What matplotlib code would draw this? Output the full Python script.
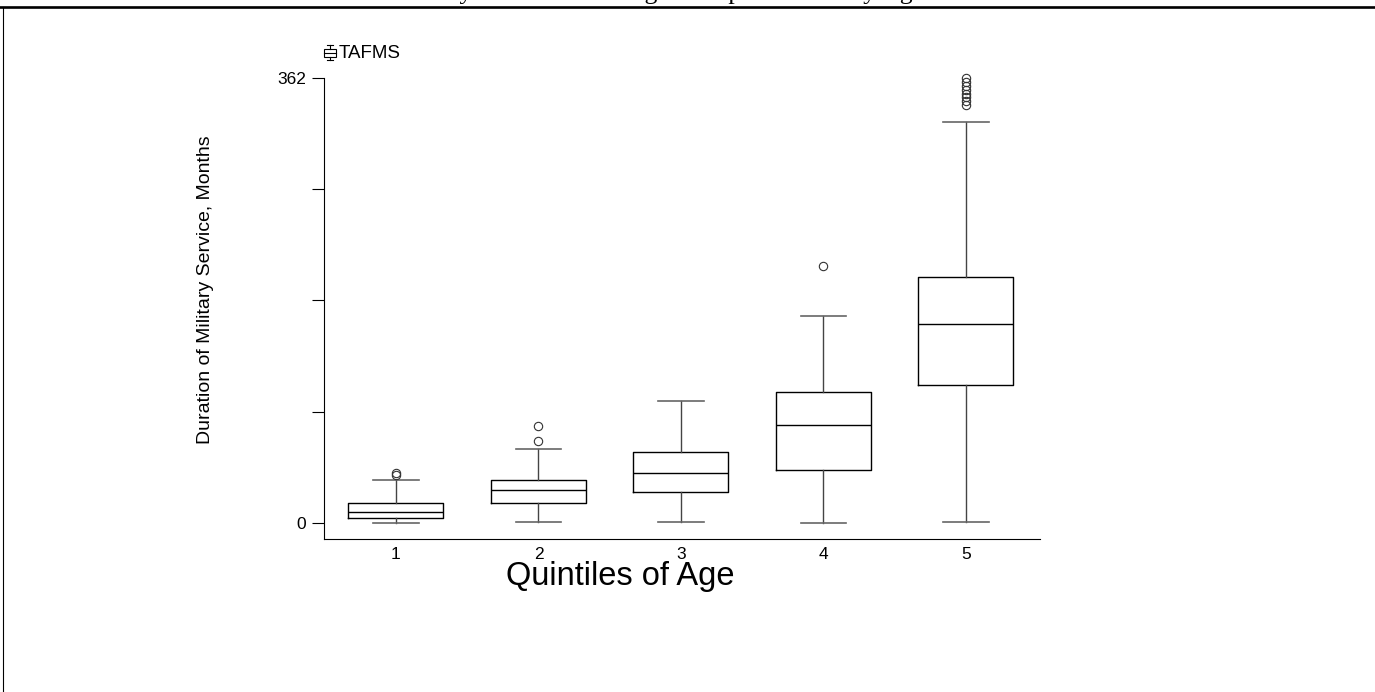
import matplotlib.pyplot as plt
from matplotlib.lines import Line2D
from matplotlib.patches import Rectangle

# quintiles of age, summary of TAFMS (months)
groups = ["1", "2", "3", "4", "5"]
whisker_low = [0, 1, 1, 0, 1]
q1 = [4.6, 17.0, 25.9, 43.8, 112.7]
median = [9.7, 27.0, 40.8, 80.3, 162.2]
q3 = [16.8, 35.1, 58.1, 106.8, 200.3]
whisker_high = [34.9, 60.8, 99.7, 168.6, 325.9]
outliers = [
    [39.2, 41.1],
    [67.0, 79.5],
    [],
    [209.2],
    [340, 343, 346, 349, 352, 355, 358, 362],
]
y_ticks = [0, 90.5, 181, 271.5, 362]
y_tick_labels = ["0", "", "", "", "362"]

plt.rcParams["font.family"] = "Liberation Sans"

W, H = 1375, 692
fig = plt.figure(figsize=(W / 100, H / 100), dpi=100)

# page frame (top rule and left rule) and the cut-off title above
fig.add_artist(Line2D([0, 1], [1 - 6.5 / H, 1 - 6.5 / H], color="black", lw=1.9))
fig.add_artist(Line2D([3 / W, 3 / W], [0, 1 - 6.5 / H], color="black", lw=0.8))
fig.text(262 / W, 1 + 1.5 / H, "Duration of Military Service in the Age Group Stratified by Age",
         family="Liberation Serif", fontsize=18.5, va="baseline", ha="left")

ax = fig.add_axes([324 / W, 1 - 539 / H, 716 / W, (539 - 77.5) / H])

stats = []
for i in range(len(groups)):
    stats.append({
        "whislo": whisker_low[i],
        "q1": q1[i],
        "med": median[i],
        "q3": q3[i],
        "whishi": whisker_high[i],
        "fliers": outliers[i],
        "label": groups[i],
    })

ax.bxp(stats, positions=range(1, 6), widths=0.667, capwidths=0.32,
       boxprops=dict(color="black", lw=1.0),
       medianprops=dict(color="black", lw=1.0),
       whiskerprops=dict(color="#444444", lw=1.0),
       capprops=dict(color="#666666", lw=1.2),
       flierprops=dict(marker="o", markersize=6, markerfacecolor="none",
                       markeredgecolor="#333333", markeredgewidth=0.8))

ax.set_xlim(0.495, 5.52)
ax.set_ylim(-12.6, 362)
ax.set_yticks(y_ticks)
ax.set_yticklabels(y_tick_labels)
ax.tick_params(axis="x", length=0, labelsize=12.5, pad=6)
ax.tick_params(axis="y", length=9, width=0.8, labelsize=12.5, pad=4)
for side in ["top", "right"]:
    ax.spines[side].set_visible(False)
for side in ["left", "bottom"]:
    ax.spines[side].set_linewidth(0.8)
for line in ax.lines:
    line.set_clip_on(False)

fig.text(206 / W, 1 - 290 / H, "Duration of Military Service, Months", fontsize=14,
         rotation=90, ha="center", va="center")
fig.text(620 / W, 1 - 576 / H, "Quintiles of Age", fontsize=23.5, ha="center", va="center")

# legend: small box glyph and series name
lx = 330
fig.add_artist(Rectangle(((lx - 6) / W, 1 - 57 / H), 12 / W, 8 / H, fill=False,
                         ec="black", lw=0.8))
fig.add_artist(Line2D([(lx - 6) / W, (lx + 6) / W], [1 - 53 / H, 1 - 53 / H], color="black", lw=0.8))
fig.add_artist(Line2D([lx / W, lx / W], [1 - 45 / H, 1 - 49 / H], color="black", lw=0.8))
fig.add_artist(Line2D([lx / W, lx / W], [1 - 57 / H, 1 - 60 / H], color="black", lw=0.8))
fig.add_artist(Line2D([(lx - 3) / W, (lx + 3) / W], [1 - 45 / H, 1 - 45 / H], color="black", lw=0.8))
fig.add_artist(Line2D([(lx - 3) / W, (lx + 3) / W], [1 - 60 / H, 1 - 60 / H], color="black", lw=0.8))
fig.text(339 / W, 1 - 58 / H, "TAFMS", fontsize=13.5, va="baseline", ha="left")

fig.savefig("out.png", dpi=100)
